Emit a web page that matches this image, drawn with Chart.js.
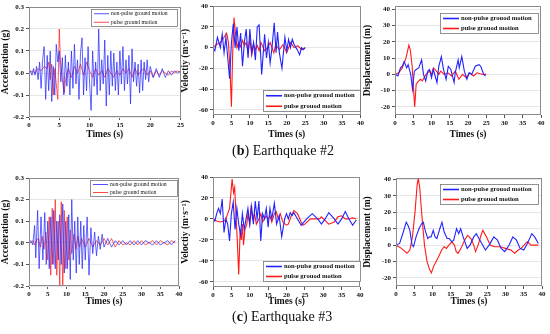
<!DOCTYPE html>
<html lang="en">
<head>
<meta charset="UTF-8">
<title>Ground motions, Earthquake #2 and #3</title>
<script src="https://cdn.jsdelivr.net/npm/chart.js"></script>
<style>
    body {
        margin: 0;
        background: #fff;
        width: 550px;
        height: 334px;
        position: relative;
        overflow: hidden;
        font-family: "Liberation Serif", serif;
    }
    canvas { position: absolute; }
    .caption {
        position: absolute;
        font-size: 14px;
        color: #111;
        white-space: nowrap;
    }
</style>
</head>
<body>
<canvas id="c1" width="185" height="140" style="left:0;top:0"></canvas>
<canvas id="c2" width="185" height="140" style="left:180px;top:0"></canvas>
<canvas id="c3" width="188" height="140" style="left:362px;top:0"></canvas>
<canvas id="c4" width="185" height="142" style="left:0;top:165px"></canvas>
<canvas id="c5" width="185" height="142" style="left:180px;top:165px"></canvas>
<canvas id="c6" width="188" height="142" style="left:362px;top:165px"></canvas>
<div class="caption" style="left:232px;top:143px">(<b>b</b>) Earthquake #2</div>
<div class="caption" style="left:232px;top:309px">(<b>c</b>) Earthquake #3</div>

<script>
// ---- data: [time (s), value] ----
const eq2AccNonPulse = [[0,0],[0.25,0.01],[0.5,-0.01],[0.75,0.02],[1,-0.01],[1.25,0.03],[1.5,-0.03],[1.75,0.05],[2,-0.07],[2.25,0.06],[2.5,0.12],[2.75,-0.12],[3,0.08],[3.25,-0.08],[3.5,0.10],[3.75,-0.13],[4,0.03],[4.25,-0.10],[4.5,0.13],[4.75,0.05],[5,0.10],[5.25,-0.04],[5.5,0.07],[5.75,-0.10],[6,0.08],[6.25,-0.06],[6.5,0.05],[6.75,-0.10],[7,0.10],[7.25,-0.07],[7.5,0.13],[7.75,-0.05],[8,0.06],[8.25,-0.12],[8.5,0.09],[8.75,0.16],[9,-0.10],[9.25,0.07],[9.5,-0.08],[9.75,0.12],[10,-0.05],[10.25,-0.17],[10.5,0.10],[10.75,-0.06],[11,0.05],[11.25,-0.10],[11.5,0.20],[11.75,-0.08],[12,0.06],[12.25,-0.05],[12.5,0.15],[12.75,-0.15],[13,0.08],[13.25,-0.10],[13.5,0.10],[13.75,-0.06],[14,0.09],[14.25,-0.08],[14.5,0.05],[14.75,-0.10],[15,0.10],[15.25,-0.05],[15.5,0.12],[15.75,-0.08],[16,0.06],[16.25,-0.05],[16.5,0.08],[16.75,-0.14],[17,0.11],[17.25,-0.04],[17.5,0.05],[17.75,-0.06],[18,0.04],[18.25,-0.09],[18.5,0.06],[18.75,-0.08],[19,0.05],[19.25,-0.03],[19.5,0.06],[19.75,-0.04],[20,0.03],[20.5,-0.02],[21,0.02],[21.5,-0.02],[22,0.02],[22.5,-0.02],[23,0.01],[23.5,-0.01],[24,0.01],[24.5,0],[25,0.01]];
const eq2AccPulse = [[0,0],[0.5,0.01],[1,0],[1.5,0.02],[2,0.01],[2.5,0.03],[3,0.02],[3.25,0.05],[3.5,-0.03],[3.75,0.04],[4,-0.10],[4.25,0.02],[4.5,-0.05],[4.75,-0.12],[5,0.20],[5.2,0.05],[5.5,-0.03],[5.8,-0.09],[6.1,-0.02],[6.5,0.02],[7,-0.02],[7.5,0.03],[8,0],[8.5,0.04],[9,-0.01],[9.5,0.05],[10,0.01],[10.5,-0.02],[11,0.02],[11.5,-0.01],[12,0.01],[12.5,-0.02],[13,0.02],[13.5,0],[14,-0.02],[14.5,0.01],[15,-0.01],[15.5,0.02],[16,0],[16.5,0.02],[17,-0.02],[17.5,0.02],[18,-0.01],[18.5,0.01],[19,0.02],[19.5,-0.01],[20,0.01],[20.5,-0.02],[21,0.01],[21.5,-0.01],[22,0.01],[22.5,0],[23,-0.01],[23.5,0.01],[24,0],[24.5,0.01],[25,0]];
const eq2VelNonPulse = [[0,0],[0.5,-3],[1.2,10],[2,0],[2.5,13],[3,-5],[3.5,10],[4,-10],[4.5,-30],[5,5],[5.5,23],[6,0],[6.5,20],[7,-3],[7.5,14],[8,-18],[8.5,5],[9,18],[9.5,-10],[10,18],[10.5,-5],[11,5],[11.5,-12],[12,20],[12.5,22],[13.2,-26],[14,13],[14.5,-10],[15,5],[15.5,-15],[16,0],[16.6,24],[17.1,-5],[17.5,15],[18,-5],[18.7,-20],[19.5,10],[20,-3],[20.5,8],[21,0],[21.5,8],[22,3],[22.5,0],[23,-3],[23.5,-7],[24,0],[24.5,-2],[25,0]];
const eq2VelPulse = [[0,0],[1,3],[2,5],[3,10],[3.7,14],[4.2,5],[4.6,-20],[5,-57],[5.3,-10],[5.7,29],[6.2,10],[6.5,0],[7,5],[7.5,1],[8,7],[8.5,2],[9,5],[9.5,-5],[10,8],[10.5,-7],[11,3],[11.5,-2],[12,2],[12.5,-3],[13,5],[14,-3],[15,1],[15.5,5],[16.5,-5],[17,3],[18,-2],[19,3],[20,-5],[21,5],[22,0],[23,2],[24,-2],[25,0]];
const eq2DispNonPulse = [[0,0],[0.8,-1],[1.5,4],[2,5],[2.5,8],[3.2,4],[3.6,6],[4.3,0],[4.8,-9],[5.3,2],[5.8,3],[6.5,4],[7.3,9],[7.8,0],[8.4,-4],[9,2],[9.5,3],[10,-2],[10.5,3],[11.5,-5],[12,5],[12.7,11],[13.3,3],[14,-3],[14.6,5],[15.3,3],[16.2,-5],[16.5,1],[17.3,9],[17.6,4],[18.3,11],[19,2],[19.7,-3],[20.3,1],[21,0],[22,5],[23,6],[23.5,5],[24.3,0],[24.8,-1]];
const eq2DispPulse = [[0,0],[1,1],[2,4],[3,10],[3.8,18],[4.2,15],[4.7,5],[5.1,-10],[5.4,-20],[5.8,-6],[6.5,-4],[7,-3],[7.5,-4],[8.5,0],[9.5,2],[10,0],[10.5,4],[11,3],[12,0],[12.5,2],[13.5,0],[14.5,1],[15.5,-1],[16.5,2],[17.5,-3],[18.5,0],[19.5,-2],[20.5,1],[21.5,-1],[22.5,1],[24,0],[25,0]];

const eq3AccNonPulse = [[0,0],[0.5,0.01],[1,-0.01],[1.5,0.08],[1.8,-0.07],[2.3,0.15],[2.7,-0.12],[3.2,0.12],[3.7,-0.08],[4.2,0.14],[4.6,-0.10],[5,0.10],[5.4,-0.12],[5.8,0.12],[6.2,-0.10],[6.6,0.15],[7,-0.12],[7.4,0.10],[7.8,-0.08],[8.2,0.13],[8.6,-0.10],[9,0.18],[9.4,-0.14],[9.8,0.10],[10.2,-0.12],[10.6,0.13],[11,-0.17],[11.4,0.20],[11.8,-0.08],[12.2,0.10],[12.6,-0.14],[13,0.12],[13.4,-0.10],[13.8,0.10],[14.2,-0.12],[14.6,0.08],[15,-0.08],[15.5,0.12],[16,-0.15],[16.5,0.07],[17,-0.05],[17.5,0.05],[18,-0.06],[18.5,0.03],[19,-0.03],[19.5,0.04],[20,-0.02],[21,0.02],[22,-0.02],[23,0.01],[24,-0.01],[25,0.01],[26,-0.01],[27,0.01],[28,-0.01],[29,0.01],[30,-0.01],[31,0.01],[32,0],[33,-0.01],[34,0.01],[35,-0.01],[36,0],[37,0.01],[38,-0.01],[39,0.01]];
const eq3AccPulse = [[0,0],[0.5,0],[1,0.01],[1.5,-0.01],[2,0.01],[2.5,0.02],[3,-0.02],[3.5,0.03],[4,-0.03],[4.5,0.05],[5,-0.08],[5.4,0.12],[5.8,-0.15],[6.2,0.16],[6.6,-0.10],[7,0.20],[7.4,-0.15],[7.8,0.10],[8.2,-0.20],[8.6,0.19],[9,-0.22],[9.4,0.15],[9.8,-0.12],[10.2,0.12],[10.6,-0.08],[11,0.06],[11.4,-0.05],[12,0.04],[12.5,-0.03],[13,0.03],[13.5,-0.02],[14,0.02],[15,-0.02],[16,0.02],[17,-0.02],[18,0.01],[19,-0.01],[20,0.02],[21,-0.01],[22,0.02],[23,-0.02],[24,0.01],[25,-0.01],[26,0],[27,-0.01],[28,0.01],[29,-0.01],[30,0.01],[31,-0.01],[32,0],[33,0.01],[34,-0.01],[35,0.01],[36,0],[37,-0.01],[38,0.01],[39,0]];
const eq3VelNonPulse = [[0,0],[0.5,-2],[1,5],[1.5,10],[2,5],[2.5,19],[3,-13],[3.5,0],[4,-5],[4.5,-21],[5,5],[5.5,16],[6,-10],[6.5,10],[7,-5],[7.5,-15],[8,5],[8.5,-10],[9,0],[9.5,10],[10,-5],[10.5,12],[11,-5],[11.5,17],[12,0],[12.5,17],[13,-21],[13.5,5],[14,0],[14.5,10],[15,-8],[15.5,10],[16,0],[16.7,15],[17.3,-5],[18,3],[18.7,-17],[19.5,0],[20,5],[20.5,0],[21,6],[21.5,3],[22,6],[23,0],[24,-6],[25.5,0],[27,5],[28.5,0],[29.5,-5],[30.5,0],[31.5,6],[33,0],[34,-5],[35,0],[36,7],[37,0],[38,-6],[39,-1]];
const eq3VelPulse = [[0,0],[1,-2],[2,-3],[3,-2],[3.5,0],[4,5],[4.5,10],[5.2,38],[5.6,25],[5.9,30],[6.3,0],[6.6,-20],[7,-53],[7.4,-10],[7.7,-20],[8,-5],[8.3,-25],[8.7,-10],[9.2,-5],[9.5,5],[10,-5],[10.3,10],[10.8,0],[11.3,5],[11.8,-5],[12.5,0],[13,5],[13.5,-3],[14.5,3],[15,0],[15.5,3],[16,-3],[16.7,5],[17.2,7],[17.8,0],[18.3,5],[19,-3],[20,-6],[20.5,-5],[21.3,3],[22,8],[23,5],[24,-3],[24.5,-6],[25,-5],[26.5,0],[28,0],[29,0],[29.5,2],[31.5,-5],[33,-3],[34,2],[35,3],[36,0],[37,0],[38,1],[39,0]];
const eq3DispNonPulse = [[0,0],[1,1],[2,8],[2.8,14],[3.3,12],[3.8,9],[4.4,0],[4.8,-1],[5.5,5],[6.3,10],[7,13],[7.5,14],[8,9],[8.7,4],[9.2,5],[9.6,5],[10.2,9],[10.7,5],[11.2,4],[12,10],[12.6,14],[13.2,8],[14,4],[14.6,4],[15.3,2],[15.8,3],[16.6,10],[17.2,7],[17.7,10],[18.4,5],[19.5,-2],[20.3,0],[21.3,5],[22,7],[23,3],[24.5,-3],[25.5,0],[26.8,5],[27.8,3],[28.8,-2],[29.8,-4],[31,0],[32,5],[33,3],[34,-2],[35,-3],[36,1],[37.2,7],[38,5],[39,1]];
const eq3DispPulse = [[0,0],[1.5,-2],[3,-5],[3.8,-3],[4.5,5],[5.2,20],[5.8,37],[6.1,41],[6.5,35],[7.2,15],[7.8,0],[8.5,-10],[9.2,-15],[9.7,-17],[10.3,-13],[11,-10],[11.7,-7],[12.5,-3],[13.2,-1],[13.8,-2],[14.5,0],[15.3,2],[16,0],[16.5,-4],[17,-5],[17.8,-2],[18.8,3],[19.6,6],[20.5,4],[21.3,0],[21.8,-4],[22.5,0],[23.3,6],[23.8,9],[24.8,5],[25.8,0],[27,-1],[28.5,-1],[30,-2],[31.5,-3],[32.5,-5],[33.5,-3],[34.3,-2],[35.5,1],[36,2],[37,0],[38,0],[39,0]];

const accTicks = [-0.2, -0.1, 0, 0.1, 0.2, 0.3];
const velTicks = [-60, -40, -20, 0, 20, 40];
const dispTicks = [-20, -10, 0, 10, 20, 30, 40];
const timeTicks25 = [0, 5, 10, 15, 20, 25];
const timeTicks40 = [0, 5, 10, 15, 20, 25, 30, 35, 40];

const namesGround = ['non-pulse ground motion', 'pulse ground motion'];
const namesGrouod = ['non-pulse grouod motion', 'pulse grouod motion'];

const BLUE = 'rgb(35,35,255)';
const RED = 'rgb(255,25,25)';
const FONT = '"Liberation Serif", "DejaVu Serif", serif';

// full box around the plot area
const frame = {
    id: 'frame',
    afterDatasetsDraw(chart) {
        const a = chart.chartArea, ctx = chart.ctx;
        ctx.save();
        ctx.strokeStyle = '#8c8c8c';
        ctx.lineWidth = 1;
        ctx.strokeRect(Math.round(a.left) + 0.5, Math.round(a.top) + 0.5,
            Math.round(a.right - a.left) - 1, Math.round(a.bottom - a.top) - 1);
        ctx.restore();
    }
};

// legend drawn inside the plot, in a bordered box
const boxLegend = {
    id: 'boxLegend',
    afterDraw(chart, args, o) {
        if (!o || o.w === undefined) return;
        const ctx = chart.ctx;
        ctx.save();
        ctx.fillStyle = '#fff';
        ctx.fillRect(o.x, o.y, o.w, o.h);
        ctx.strokeStyle = '#777';
        ctx.lineWidth = 0.8;
        ctx.strokeRect(o.x + 0.5, o.y + 0.5, o.w, o.h);
        ctx.font = o.font;
        ctx.textBaseline = 'middle';
        chart.data.datasets.forEach((ds, i) => {
            const cy = o.y + o.h * (i * 2 + 1) / 4 + 0.5;
            ctx.strokeStyle = ds.borderColor;
            ctx.lineWidth = o.lw;
            ctx.beginPath();
            ctx.moveTo(o.x + 3, cy);
            ctx.lineTo(o.x + 3 + o.len, cy);
            ctx.stroke();
            ctx.fillStyle = '#111';
            ctx.fillText(ds.label, o.x + 5 + o.len, cy);
        });
        ctx.restore();
    }
};

function pts(arr) {
    return arr.map(p => ({ x: p[0], y: p[1] }));
}

function panel(id, o) {
    new Chart(document.getElementById(id), {
        type: 'line',
        data: {
            datasets: [
                { label: o.names[0], data: pts(o.blue), borderColor: BLUE, borderWidth: o.lw },
                { label: o.names[1], data: pts(o.red), borderColor: RED, borderWidth: o.lw }
            ]
        },
        options: {
            responsive: false,
            animation: false,
            devicePixelRatio: 1,
            parsing: false,
            layout: { padding: { top: o.top, right: o.right, left: 0, bottom: 0 } },
            elements: { point: { radius: 0 }, line: { tension: 0 } },
            plugins: {
                legend: { display: false },
                tooltip: { enabled: false },
                boxLegend: o.box
            },
            scales: {
                x: {
                    type: 'linear',
                    min: 0,
                    max: o.xmax,
                    afterBuildTicks: s => { s.ticks = o.xt.map(v => ({ value: v })); },
                    afterFit: s => { s.height = o.xh; },
                    grid: { drawOnChartArea: false, tickLength: 3, tickColor: '#555' },
                    border: { display: false },
                    ticks: { font: { family: FONT, size: 7, weight: 'bold' }, color: '#111', padding: 1, maxRotation: 0, autoSkip: false },
                    title: { display: true, text: 'Times (s)', color: '#111', font: { family: FONT, size: 9.5, weight: 'bold' }, padding: { top: 0, bottom: 0 } }
                },
                y: {
                    type: 'linear',
                    min: o.ymin,
                    max: o.ymax,
                    afterBuildTicks: s => { s.ticks = o.yt.map(v => ({ value: v })); },
                    afterFit: s => { s.width = o.yw; },
                    grid: { color: '#e6e6e6', tickLength: 3, tickColor: '#555' },
                    border: { display: false },
                    ticks: { font: { family: FONT, size: 7, weight: 'bold' }, color: '#111', padding: 2, autoSkip: false, callback: o.fmt },
                    title: { display: true, text: o.ytitle, color: '#111', font: { family: FONT, size: 9.5, weight: 'bold' }, padding: { top: 0, bottom: 1 } }
                }
            }
        },
        plugins: [frame, boxLegend]
    });
}

const fmtAcc = v => v.toFixed(1);
const fmtInt = v => String(v);
const smallLegend = { font: '5.6px ' + FONT, lw: 0.8, len: 15 };
const bigLegend = { font: 'bold 6.6px ' + FONT, lw: 1.6, len: 16 };

panel('c1', { blue: eq2AccNonPulse, red: eq2AccPulse, names: namesGround, lw: 0.7,
    xmax: 25, xt: timeTicks25, ymin: -0.2, ymax: 0.3, yt: accTicks, fmt: fmtAcc,
    ytitle: 'Acceleration (g)', yw: 29, xh: 23, top: 7, right: 4,
    box: Object.assign({ x: 91, y: 9, w: 86, h: 17 }, smallLegend) });

panel('c2', { blue: eq2VelNonPulse, red: eq2VelPulse, names: namesGrouod, lw: 1.1,
    xmax: 40, xt: timeTicks40, ymin: -65, ymax: 40, yt: velTicks, fmt: fmtInt,
    ytitle: 'Veloctiy (m·s⁻¹)', yw: 33, xh: 25, top: 6, right: 4,
    box: Object.assign({ x: 83, y: 90, w: 97, h: 21 }, bigLegend) });

panel('c3', { blue: eq2DispNonPulse, red: eq2DispPulse, names: namesGrouod, lw: 1.1,
    xmax: 40, xt: timeTicks40, ymin: -25, ymax: 42, yt: dispTicks, fmt: fmtInt,
    ytitle: 'Displacement (m)', yw: 33, xh: 25, top: 6, right: 9,
    box: Object.assign({ x: 78, y: 13, w: 98, h: 20 }, bigLegend) });

panel('c4', { blue: eq3AccNonPulse, red: eq3AccPulse, names: namesGround, lw: 0.7,
    xmax: 40, xt: timeTicks40, ymin: -0.2, ymax: 0.3, yt: accTicks, fmt: fmtAcc,
    ytitle: 'Acceleration (g)', yw: 29, xh: 21, top: 13, right: 6,
    box: Object.assign({ x: 90, y: 15, w: 87, h: 16 }, smallLegend) });

panel('c5', { blue: eq3VelNonPulse, red: eq3VelPulse, names: namesGrouod, lw: 1.1,
    xmax: 40, xt: timeTicks40, ymin: -65, ymax: 40, yt: velTicks, fmt: fmtInt,
    ytitle: 'Veloctiy (m·s⁻¹)', yw: 33, xh: 20, top: 12, right: 5,
    box: Object.assign({ x: 83, y: 96, w: 97, h: 20 }, bigLegend) });

panel('c6', { blue: eq3DispNonPulse, red: eq3DispPulse, names: namesGrouod, lw: 1.1,
    xmax: 40, xt: timeTicks40, ymin: -25, ymax: 41, yt: dispTicks, fmt: fmtInt,
    ytitle: 'Displacement (m)', yw: 34, xh: 21, top: 13, right: 8,
    box: Object.assign({ x: 78, y: 19, w: 98, h: 20 }, bigLegend) });
</script>
</body>
</html>
